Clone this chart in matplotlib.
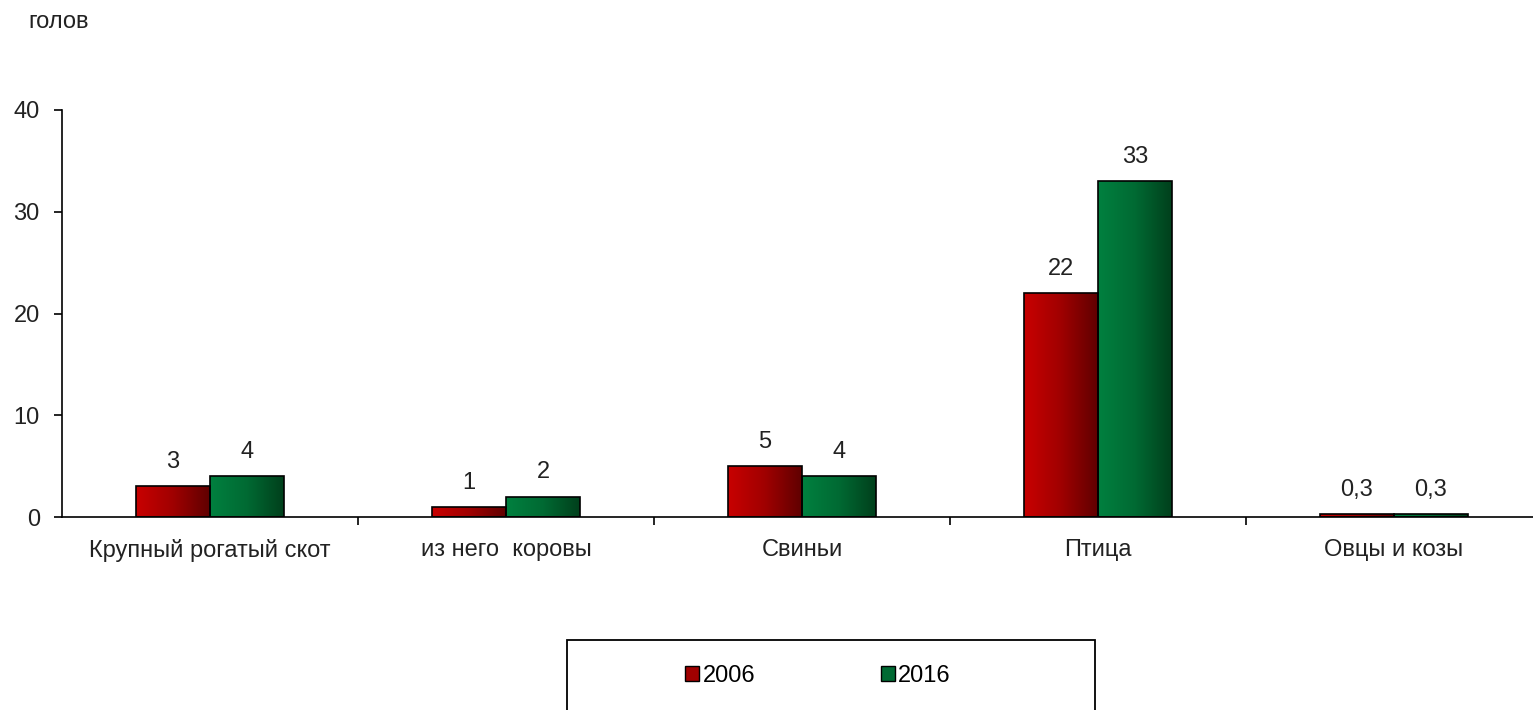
import numpy as np
import matplotlib.pyplot as plt
from matplotlib.colors import LinearSegmentedColormap

categories = ["Крупный рогатый скот", "из него  коровы", "Свиньи", "Птица", "Овцы и козы"]
years = ["2006", "2016"]
values_2006 = [3, 1, 5, 22, 0.3]
values_2016 = [4, 2, 4, 33, 0.3]

plt.rcParams["font.family"] = ["Liberation Sans", "DejaVu Sans"]
FS = 17

red_cmap = LinearSegmentedColormap.from_list("r", ["#c80000", "#a00000", "#600000"])
green_cmap = LinearSegmentedColormap.from_list("g", ["#00803f", "#006a33", "#00401c"])


def gradient_bars(ax, x, heights, width, cmap):
    bars = ax.bar(x, heights, width, color="none", edgecolor="black", linewidth=1.2, zorder=3)
    grad = np.linspace(0, 1, 64).reshape(1, -1)
    for b in bars:
        bx, by = b.get_x(), b.get_y()
        bw, bh = b.get_width(), b.get_height()
        im = ax.imshow(grad, cmap=cmap, aspect="auto", extent=[bx, bx + bw, by, by + bh],
                       interpolation="bicubic", zorder=2)
        im.set_clip_path(b)
    return bars


fig = plt.figure(figsize=(15.33, 7.1), dpi=100)
ax = fig.add_axes([62 / 1533, 193 / 710, (1542 - 62) / 1533, 407 / 710])

x = np.arange(len(categories))
w = 0.25
b1 = gradient_bars(ax, x - w / 2, values_2006, w, red_cmap)
b2 = gradient_bars(ax, x + w / 2, values_2016, w, green_cmap)

for bars, vals in ((b1, values_2006), (b2, values_2016)):
    for b, v in zip(bars, vals):
        lbl = f"{v:g}".replace(".", ",")
        ax.text(b.get_x() + b.get_width() / 2, v + 1.3, lbl, ha="center", va="bottom", fontsize=FS, color="#222222")

ax.set_xlim(-0.5, len(categories) - 0.5)
ax.set_ylim(0, 40)
ax.set_yticks([0, 10, 20, 30, 40])
ax.set_xticks(np.arange(len(categories) - 1) + 0.5)
ax.set_xticklabels([])
ax.set_xticks(x, minor=True)
ax.set_xticklabels(categories, minor=True)
ax.tick_params(axis="x", which="minor", length=0, pad=16, labelsize=FS, labelcolor="#222222")
ax.tick_params(axis="x", which="major", length=6, width=1.2, direction="out")
ax.tick_params(axis="y", length=6, width=1.2, direction="out", labelsize=FS, pad=10, labelcolor="#222222")
for s in ("top", "right"):
    ax.spines[s].set_visible(False)
ax.spines["left"].set_linewidth(1.2)
ax.spines["bottom"].set_linewidth(1.2)
ax.patch.set_alpha(0)

fig.text(28 / 1533, 1 - 22 / 710, "голов", fontsize=FS, va="center", ha="left", color="#222222")

# legend box
fig.patches.append(plt.Rectangle((567 / 1533, -0.01), (1095 - 567) / 1533, 77 / 710, transform=fig.transFigure,
                                 facecolor="white", edgecolor="black", linewidth=1.3))
handles = [plt.Rectangle((0, 0), 1, 1, facecolor=c, edgecolor="black") for c in ("#a00000", "#006a33")]
fig.legend(handles, years, loc="center", bbox_to_anchor=(818 / 1533, 1 - 676 / 710),
           ncol=2, frameon=False, fontsize=FS, handlelength=0.6, handleheight=0.6,
           handletextpad=0.15, columnspacing=5.3)

fig.savefig("out.png", dpi=100)
